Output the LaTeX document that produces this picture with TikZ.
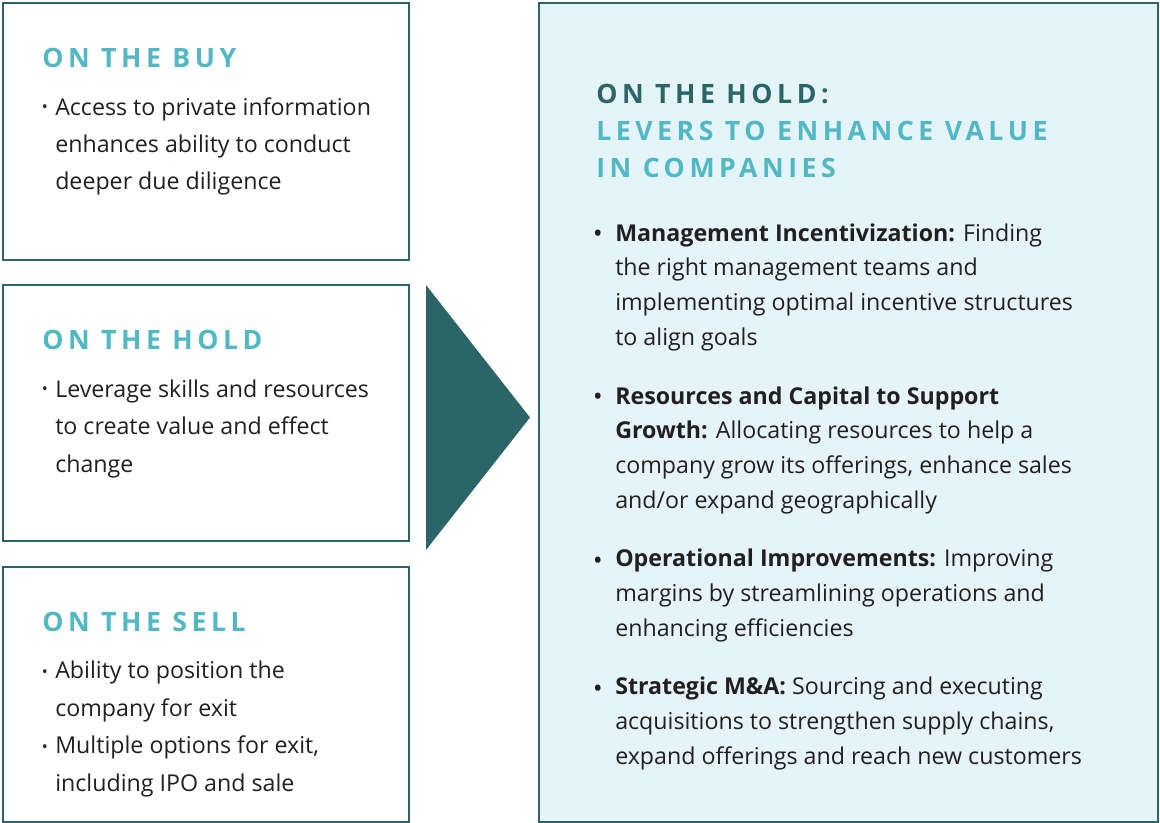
\documentclass[tikz,border=0pt]{standalone}
\usepackage{fontspec}
\setmainfont{Open Sans}
\newfontfamily\headfont{Open Sans}[LetterSpace=17]
\definecolor{tealdark}{HTML}{2B6568}
\definecolor{teallight}{HTML}{52B8C4}
\definecolor{panelfill}{HTML}{E4F4F8}
\definecolor{ink}{HTML}{231F20}
\begin{document}
\begin{tikzpicture}[x=0.75pt,y=-0.75pt,
  frame/.style={draw=tealdark, line width=1.5pt},
  head/.style={anchor=base west, inner sep=0pt, text=teallight,
    font=\headfont\bfseries\fontsize{20}{27.8}\selectfont},
  headdark/.style={head, text=tealdark},
  % multi-line texts are placed by the baseline of their last line
  lbody/.style={anchor=base west, inner sep=0pt, align=left, text=ink,
    font=\fontsize{17.4}{28.1}\selectfont},
  rbody/.style={anchor=base west, inner sep=0pt, align=left, text=ink,
    font=\fontsize{17.4}{26.1}\selectfont},
  ldot/.style={anchor=base, inner sep=0pt, text=ink, font=\fontsize{12}{13}\selectfont},
  rdot/.style={anchor=base, inner sep=0pt, text=ink, font=\fontsize{15}{16}\selectfont\bfseries}]
\useasboundingbox (0,0) rectangle (1160,823);

% left column: the three phases
\draw[frame] (3,3) rectangle (409,260);
\draw[frame] (3,285) rectangle (409,541);
\draw[frame] (3,567) rectangle (409,822);

% right panel
\draw[frame, fill=panelfill] (539,3) rectangle (1158,822);

% pointer from the phases to the panel
\fill[tealdark] (426,285) -- (530,417.5) -- (426,550) -- cycle;

% ON THE BUY
\node[head] (buyhead) at (42,67.5) {ON THE BUY};
\node[ldot] (buydot) at (45,113) {•};
\node[lbody] (buytext) at (55,190) {Access to private information\\enhances ability to conduct\\deeper due diligence};

% ON THE HOLD
\node[head] (holdhead) at (42,349.5) {ON THE HOLD};
\node[ldot] (holddot) at (45,395) {•};
\node[lbody] (holdtext) at (55,472) {Leverage skills and resources\\to create value and effect\\change};

% ON THE SELL
\node[head] (sellhead) at (42,631.5) {ON THE SELL};
\node[ldot] (selldota) at (45,677) {•};
\node[lbody] (selltexta) at (55,716) {Ability to position the\\company for exit};
\node[ldot] (selldotb) at (45,752) {•};
\node[lbody] (selltextb) at (55,791) {Multiple options for exit,\\including IPO and sale};

% panel heading
\node[headdark] (rhead) at (596,103.5) {ON THE HOLD:};
\node[head] (rsub) at (596,140.5) {LEVERS TO ENHANCE VALUE};
\node[head] (rsubb) at (596,177.5) {IN COMPANIES};

% levers
\node[rdot] (dota) at (598,241) {•};
\node[rbody] (levera) at (615,345.5) {\textbf{Management Incentivization:} Finding\\the right management teams and\\implementing optimal incentive structures\\to align goals};
\node[rdot] (dotb) at (598,404) {•};
\node[rbody] (leverb) at (615,508.5) {\textbf{Resources and Capital to Support}\\\textbf{Growth:} Allocating resources to help a\\company grow its offerings, enhance sales\\and/or expand geographically};
\node[rdot] (dotc) at (598,567) {•};
\node[rbody] (leverc) at (615,636.5) {\textbf{Operational Improvements:} Improving\\margins by streamlining operations and\\enhancing efficiencies};
\node[rdot] (dotd) at (598,695) {•};
\node[rbody] (leverd) at (615,764.5) {\textbf{Strategic M\&A:} Sourcing and executing\\acquisitions to strengthen supply chains,\\expand offerings and reach new customers};
\end{tikzpicture}
\end{document}
